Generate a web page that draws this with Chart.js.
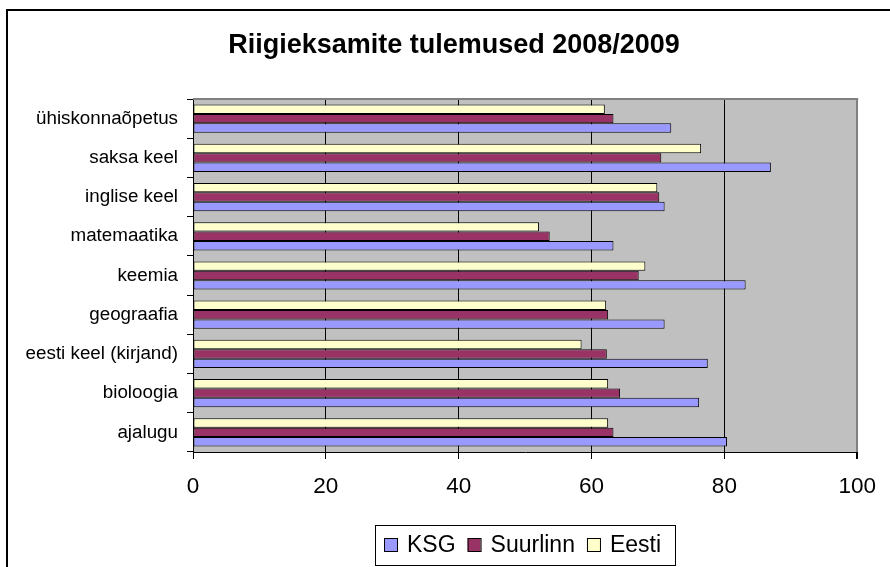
<!DOCTYPE html>
<html>
<head>
<meta charset="utf-8">
<script src="https://cdn.jsdelivr.net/npm/chart.js@4.4.1/dist/chart.umd.min.js"></script>
<style>
  html, body { margin: 0; padding: 0; background: #fff; overflow: hidden; }
  #wrap { position: absolute; left: 0; top: 0; width: 890px; height: 567px; }
</style>
</head>
<body>
<div id="wrap"><canvas id="c" width="890" height="567"></canvas></div>
<script>
// Categories in the source order (bottom to top as drawn in the reference)
const categories = ["ajalugu", "bioloogia", "eesti keel (kirjand)", "geograafia", "keemia",
  "matemaatika", "inglise keel", "saksa keel", "ühiskonnaõpetus"];
const ksg      = [80.4, 76.2, 77.5, 71.0, 83.2, 63.3, 71.0, 87.0, 72.0];
const suurlinn = [63.3, 64.3, 62.3, 62.5, 67.1, 53.7, 70.2, 70.5, 63.3];
const eesti    = [62.5, 62.5, 58.5, 62.2, 68.1, 52.1, 69.9, 76.5, 62.0];
const seriesNames = ["KSG", "Suurlinn", "Eesti"];
const xTicks = [0, 20, 40, 60, 80, 100];
const titleText = "Riigieksamite tulemused 2008/2009";

const colors = { KSG: "#9999FF", Suurlinn: "#993366", Eesti: "#FFFFCC" };
const FONT = "'Liberation Sans', Arial, sans-serif";

// Chart.js draws the first label at top; the reference has the first category at bottom
const rev = a => a.slice().reverse();
const seriesData = { KSG: ksg, Suurlinn: suurlinn, Eesti: eesti };
// within a group Eesti is the top bar, KSG the bottom one
const drawOrder = ["Eesti", "Suurlinn", "KSG"];

const datasets = drawOrder.map(name => ({
  label: name,
  data: rev(seriesData[name]),
  backgroundColor: colors[name],
  borderColor: "#000",
  borderWidth: 1,
  borderSkipped: false,
  categoryPercentage: 0.72,
  barPercentage: 1.0
}));

const framePlugin = {
  id: "frame",
  afterLayout(chart) {
    // the title in the reference is centred a little right of the plot centre
    if (chart.titleBlock) {
      chart.titleBlock.left += 23;
      chart.titleBlock.right += 23;
    }
  },
  beforeDraw(chart) {
    const ctx = chart.ctx;
    ctx.save();
    ctx.fillStyle = "#fff";
    ctx.fillRect(0, 0, chart.width, chart.height);
    // outer chart frame
    ctx.strokeStyle = "#000";
    ctx.lineWidth = 2;
    ctx.beginPath();
    ctx.moveTo(7, chart.height + 5);
    ctx.lineTo(7, 10);
    ctx.lineTo(chart.width + 5, 10);
    ctx.stroke();
    // plot area background
    const a = chart.chartArea;
    ctx.fillStyle = "#C0C0C0";
    ctx.fillRect(a.left, a.top, a.right - a.left, a.bottom - a.top);
    ctx.restore();
  },
  beforeDatasetsDraw(chart) {
    const ctx = chart.ctx, a = chart.chartArea;
    ctx.save();
    ctx.strokeStyle = "#808080";
    ctx.lineWidth = 2;
    ctx.beginPath();
    ctx.moveTo(a.left, a.top);
    ctx.lineTo(a.right + 1, a.top);
    ctx.stroke();
    ctx.restore();
  },
  afterDraw(chart) {
    // legend box
    const ctx = chart.ctx;
    ctx.save();
    ctx.font = "23px " + FONT;
    ctx.textBaseline = "middle";
    ctx.textAlign = "left";
    const boxL = 375, boxT = 525, boxW = 300, boxH = 40;
    ctx.fillStyle = "#fff";
    ctx.fillRect(boxL, boxT, boxW, boxH);
    ctx.strokeStyle = "#000";
    ctx.lineWidth = 1;
    ctx.strokeRect(boxL + 0.5, boxT + 0.5, boxW, boxH);
    let x = 384;
    const cy = boxT + boxH / 2;
    seriesNames.forEach(name => {
      ctx.fillStyle = colors[name];
      ctx.fillRect(x, cy - 7, 13, 13);
      ctx.strokeStyle = "#000";
      ctx.strokeRect(x + 0.5, cy - 6.5, 13, 13);
      ctx.fillStyle = "#000";
      const tx = x + 23;
      ctx.fillText(name, tx, cy + 1);
      x = tx + ctx.measureText(name).width + 12;
    });
    ctx.restore();
  }
};

new Chart(document.getElementById("c"), {
  type: "bar",
  data: { labels: rev(categories), datasets },
  options: {
    indexAxis: "y",
    responsive: false,
    animation: false,
    devicePixelRatio: 1,
    layout: { padding: { left: 0, right: 28, top: 0, bottom: 0 } },
    plugins: {
      legend: { display: false },
      tooltip: { enabled: false },
      title: {
        display: true,
        text: titleText,
        color: "#000",
        font: { family: FONT, size: 27, weight: "bold", lineHeight: 1.2 },
        padding: { top: 29, bottom: 37.6 }
      }
    },
    scales: {
      x: {
        min: 0, max: 100,
        afterFit(scale) { scale.height = 115; },
        afterBuildTicks(scale) { scale.ticks = xTicks.map(v => ({ value: v })); },
        ticks: {
          color: "#000",
          font: { family: FONT, size: 22.5 },
          padding: 14,
          maxRotation: 0
        },
        grid: {
          color: c => (c.index === xTicks.length - 1 ? "#808080" : "#000"),
          lineWidth: c => (c.index === xTicks.length - 1 ? 2 : 1),
          tickColor: "#000",
          tickLength: 7,
          drawTicks: true
        },
        border: { display: true, color: "#000", width: 1 }
      },
      y: {
        afterFit(scale) { scale.width = 193; },
        ticks: {
          color: "#000",
          font: { family: FONT, size: 18.8 },
          padding: 9,
          autoSkip: false
        },
        grid: {
          offset: true,
          drawOnChartArea: false,
          drawTicks: true,
          tickLength: 6,
          tickColor: "#000",
          color: "#000"
        },
        border: { display: true, color: "#000", width: 1 }
      }
    }
  },
  plugins: [framePlugin]
});
</script>
</body>
</html>
